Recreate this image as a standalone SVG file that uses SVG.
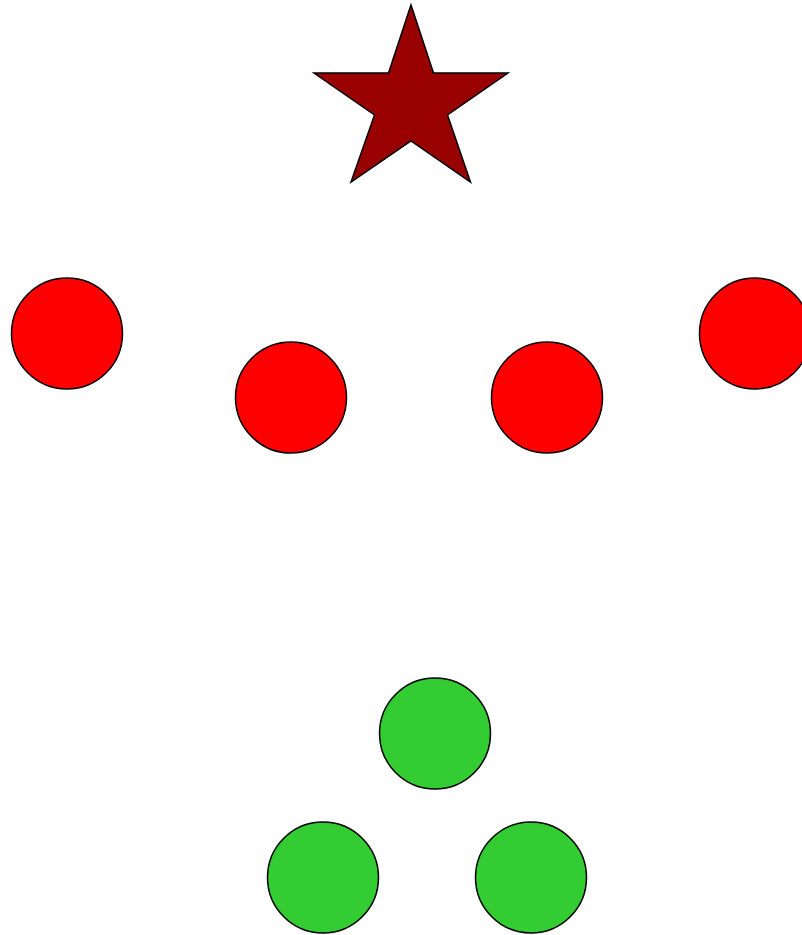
<svg xmlns="http://www.w3.org/2000/svg" width="802" height="935" viewBox="0 0 802 935">
<style>
.red{fill:#ff0000;stroke:#000;stroke-width:1.5}
.green{fill:#33cc33;stroke:#000;stroke-width:1.5}
.star{fill:#990000;stroke:#000;stroke-width:1.5;stroke-linejoin:miter}
</style>
<rect width="802" height="935" fill="#fff"/>
<g id="star"><polygon class="star" points="411,5 433.5,73 508,73 447.5,115 470.5,182 411,141 351,182 374.5,115 314,73 388.5,73"/></g>
<g id="r1"><circle class="red" cx="67" cy="333.5" r="55.5"/></g>
<g id="r2"><circle class="red" cx="291" cy="397.5" r="55.5"/></g>
<g id="r3"><circle class="red" cx="547" cy="397.5" r="55.5"/></g>
<g id="r4"><circle class="red" cx="755" cy="333.5" r="55.5"/></g>
<g id="g1"><circle class="green" cx="435" cy="733.5" r="55.5"/></g>
<g id="g2"><circle class="green" cx="323" cy="877.5" r="55.5"/></g>
<g id="g3"><circle class="green" cx="531" cy="877.5" r="55.5"/></g>
<g id="connectors"></g>
</svg>
